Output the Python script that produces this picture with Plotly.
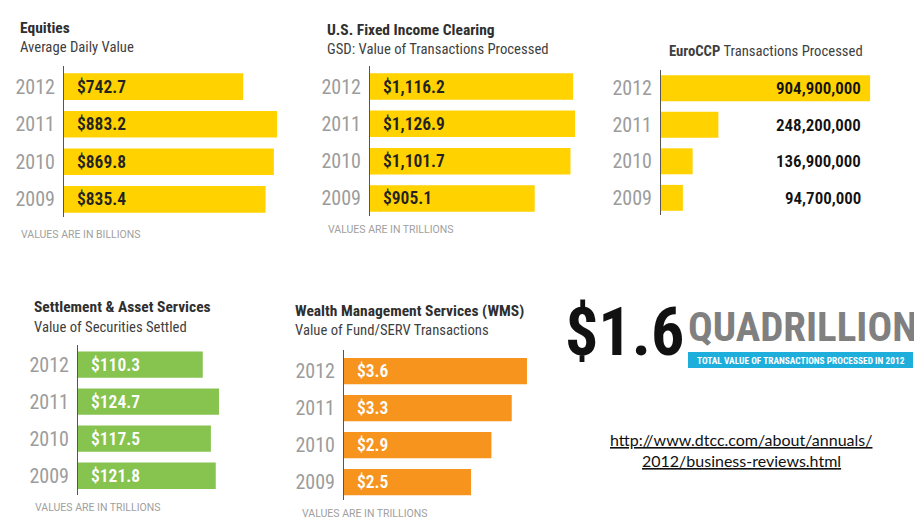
import plotly.graph_objects as go

# The page body adds an 8px margin, so the figure is sized to the visible area
# and reference pixel coordinates are converted with that offset.
OFF = 8
W, H = 922 - OFF, 528 - OFF

years = ["2012", "2011", "2010", "2009"]

equities_vals = [742.7, 883.2, 869.8, 835.4]
equities_labels = ["$742.7", "$883.2", "$869.8", "$835.4"]

fixed_vals = [1116.2, 1126.9, 1101.7, 905.1]
fixed_labels = ["$1,116.2", "$1,126.9", "$1,101.7", "$905.1"]

euro_vals = [904.9, 248.2, 136.9, 94.7]  # millions
euro_labels = ["904,900,000", "248,200,000", "136,900,000", "94,700,000"]

settle_vals = [110.3, 124.7, 117.5, 121.8]
settle_labels = ["$110.3", "$124.7", "$117.5", "$121.8"]

wms_vals = [3.6, 3.3, 2.9, 2.5]
wms_labels = ["$3.6", "$3.3", "$2.9", "$2.5"]

COND = "Roboto Condensed, Roboto, sans-serif"
YELLOW = "#FFD200"
GREEN = "#86C34F"
ORANGE = "#F7941D"
GRAY_YEAR = "#9C9C9C"


def px(x):
    return (x - OFF) / W


def py(y):
    return 1 - (y - OFF) / H


panels = [
    dict(vals=equities_vals, labels=equities_labels, color=YELLOW, xd=(64, 278), yd=(66, 217),
         xmax=887, yr=(3.47, -0.55), tc="#222222", inside=True),
    dict(vals=fixed_vals, labels=fixed_labels, color=YELLOW, xd=(370, 580), yd=(66, 216),
         xmax=1154, yr=(3.47, -0.55), tc="#222222", inside=True),
    dict(vals=euro_vals, labels=euro_labels, color=YELLOW, xd=(661, 875), yd=(70, 215),
         xmax=926, yr=(3.47, -0.5), tc="#111111", inside=False),
    dict(vals=settle_vals, labels=settle_labels, color=GREEN, xd=(78, 230), yd=(345, 495),
         xmax=134.4, yr=(3.52, -0.53), tc="#FFFFFF", inside=True),
    dict(vals=wms_vals, labels=wms_labels, color=ORANGE, xd=(344, 540), yd=(350, 500),
         xmax=3.856, yr=(3.48, -0.57), tc="#FFFFFF", inside=True),
]

ypos = list(range(len(years)))

fig = go.Figure()
layout = dict(
    width=W, height=H, margin=dict(l=0, r=0, t=0, b=0),
    paper_bgcolor="white", plot_bgcolor="white", showlegend=False,
)
annotations = []

for i, p in enumerate(panels, start=1):
    xa = "x" if i == 1 else f"x{i}"
    ya = "y" if i == 1 else f"y{i}"
    fig.add_trace(go.Bar(
        x=p["vals"], y=ypos, orientation="h", marker=dict(color=p["color"], line=dict(width=0)),
        xaxis=xa, yaxis=ya, width=0.71, hoverinfo="skip",
    ))
    layout["xaxis" if i == 1 else f"xaxis{i}"] = dict(
        domain=[px(p["xd"][0]), px(p["xd"][1])], range=[0, p["xmax"]],
        showgrid=False, zeroline=False, showline=False, showticklabels=False, ticks="",
        anchor=ya, fixedrange=True,
    )
    layout["yaxis" if i == 1 else f"yaxis{i}"] = dict(
        domain=[py(p["yd"][1]), py(p["yd"][0])], range=list(p["yr"]),
        tickmode="array", tickvals=ypos, ticktext=years,
        anchor=xa, showgrid=False, zeroline=False,
        showline=True, linecolor="#555555", linewidth=1, ticks="",
        tickfont=dict(family=COND, size=20, color=GRAY_YEAR), ticklabelstandoff=4,
        fixedrange=True,
    )
    for yv, lab in zip(ypos, p["labels"]):
        if p["inside"]:
            annotations.append(dict(
                x=0, y=yv, xref=xa, yref=ya, text=lab, showarrow=False,
                xanchor="left", yanchor="middle", xshift=11,
                font=dict(family=COND, size=17.5, color=p["tc"], weight=600),
            ))
        else:
            annotations.append(dict(
                x=px(863), y=yv, xref="paper", yref=ya, text=lab, showarrow=False,
                xanchor="right", yanchor="middle",
                font=dict(family=COND, size=17, color=p["tc"], weight=600),
            ))


def txt(x, y, s, size, color, family=COND, anchor="left"):
    annotations.append(dict(
        x=px(x), y=py(y), xref="paper", yref="paper", text=s, showarrow=False,
        xanchor=anchor, yanchor="middle", font=dict(family=family, size=size, color=color),
    ))


TITLE_C = "#2F2F2F"
SUB_C = "#3F3F3F"
NOTE_C = "#A0A0A0"
NOTE_F = "Roboto, sans-serif"
TS, SS, NS = 15.5, 14.7, 10.5

txt(18, 28, "<b>Equities</b>", TS, TITLE_C)
txt(18, 47, "Average Daily Value", SS, SUB_C)
txt(19, 234, "VALUES ARE IN BILLIONS", NS, NOTE_C, family=NOTE_F)

txt(325, 30, "<b>U.S. Fixed Income Clearing</b>", TS, TITLE_C)
txt(325, 49, "GSD: Value of Transactions Processed", SS, SUB_C)
txt(326, 229, "VALUES ARE IN TRILLIONS", NS, NOTE_C, family=NOTE_F)

txt(667, 51, "<b>EuroCCP</b> Transactions Processed", SS, SUB_C)

txt(32, 307, "<b>Settlement &amp; Asset Services</b>", TS, TITLE_C)
txt(32, 327, "Value of Securities Settled", SS, SUB_C)
txt(33, 507, "VALUES ARE IN TRILLIONS", NS, NOTE_C, family=NOTE_F)

txt(293, 311, "<b>Wealth Management Services (WMS)</b>", TS, TITLE_C)
txt(293, 330, "Value of Fund/SERV Transactions", SS, SUB_C)
txt(300, 513, "VALUES ARE IN TRILLIONS", NS, NOTE_C, family=NOTE_F)

# $1.6 QUADRILLION graphic
txt(563, 332, "<b>$1.6</b>", 66, "#111111")
txt(686, 327, "<b>QUADRILLION</b>", 41, "#808080")
layout["shapes"] = [dict(
    type="rect", xref="paper", yref="paper", x0=px(688), x1=px(913), y0=py(368), y1=py(352),
    fillcolor="#1EAEDB", line=dict(width=0), layer="below",
)]
txt(800.5, 360, "<b>TOTAL VALUE OF TRANSACTIONS PROCESSED IN 2012</b>", 9.4, "#FFFFFF", anchor="center")

# URL
txt(741, 439, "<u>http://www.dtcc.com/about/annuals/</u>", 16, "#111111", family="Lato, Open Sans, sans-serif", anchor="center")
txt(741, 460, "<u>2012/business-reviews.html</u>", 16, "#111111", family="Lato, Open Sans, sans-serif", anchor="center")

layout["annotations"] = annotations
fig.update_layout(**layout)
fig.write_html("out.html")
